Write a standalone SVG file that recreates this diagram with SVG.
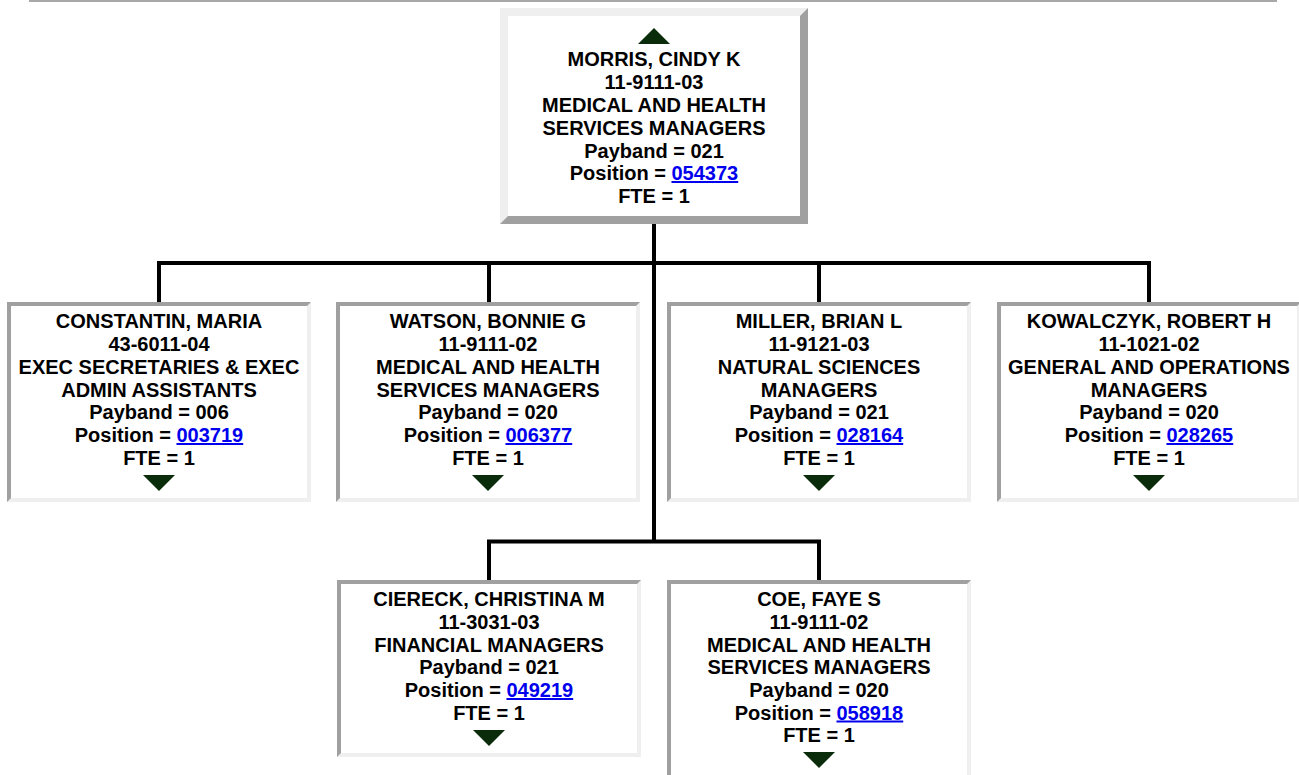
<svg xmlns="http://www.w3.org/2000/svg" width="1299" height="775" viewBox="0 0 1299 775">
<style>
.t{font-family:"Liberation Sans",Arial,sans-serif;font-weight:bold;font-size:20px;fill:#000;text-anchor:middle}
.lnk{fill:#0000ee;text-decoration:underline}
.lt{fill:#efefef}
.dk{fill:#a0a0a0}
.in{fill:#fff}
.tri{fill:#0a2c0a}
.c{stroke:#000;stroke-width:4;fill:none}
</style>
<rect width="1299" height="775" fill="#fff"/>
<line x1="29" y1="1" x2="1277" y2="1" stroke="#a8a8a8" stroke-width="2"/>
<g id="connectors">
<path class="c" d="M654 224V541.5M159 302V263H1149V302M489 263V302M819 263V302M489 580V541.5H819V580"/>
</g>
<g id="node-morris">
<rect class="dk" x="500" y="8" width="308" height="216"/>
<polygon class="lt" points="500,8 808,8 800,16 508,16 508,216 500,224"/>
<rect class="in" x="508" y="16" width="292" height="200"/>
<polygon class="tri" points="654,28 670,44 638,44"/>
<text class="t" x="654" y="66">MORRIS, CINDY K</text>
<text class="t" x="654" y="89">11-9111-03</text>
<text class="t" x="654" y="112">MEDICAL AND HEALTH</text>
<text class="t" x="654" y="135">SERVICES MANAGERS</text>
<text class="t" x="654" y="157.5">Payband = 021</text>
<text class="t" x="654" y="180">Position = <tspan class="lnk">054373</tspan></text>
<text class="t" x="654" y="203">FTE = 1</text>
</g>
<g id="node-constantin">
<rect class="lt" x="7" y="302" width="304" height="200"/>
<polygon class="dk" points="7,302 311,302 307,306 11,306 11,498 7,502"/>
<rect class="in" x="11" y="306" width="296" height="192"/>
<text class="t" x="159" y="328">CONSTANTIN, MARIA</text>
<text class="t" x="159" y="351">43-6011-04</text>
<text class="t" x="159" y="374">EXEC SECRETARIES &amp; EXEC</text>
<text class="t" x="159" y="396.5">ADMIN ASSISTANTS</text>
<text class="t" x="159" y="419">Payband = 006</text>
<text class="t" x="159" y="442">Position = <tspan class="lnk">003719</tspan></text>
<text class="t" x="159" y="464.5">FTE = 1</text>
<polygon class="tri" points="143,475 175,475 159,491"/>
</g>
<g id="node-watson">
<rect class="lt" x="336" y="302" width="304" height="200"/>
<polygon class="dk" points="336,302 640,302 636,306 340,306 340,498 336,502"/>
<rect class="in" x="340" y="306" width="296" height="192"/>
<text class="t" x="488" y="328">WATSON, BONNIE G</text>
<text class="t" x="488" y="351">11-9111-02</text>
<text class="t" x="488" y="374">MEDICAL AND HEALTH</text>
<text class="t" x="488" y="396.5">SERVICES MANAGERS</text>
<text class="t" x="488" y="419">Payband = 020</text>
<text class="t" x="488" y="442">Position = <tspan class="lnk">006377</tspan></text>
<text class="t" x="488" y="464.5">FTE = 1</text>
<polygon class="tri" points="472,475 504,475 488,491"/>
</g>
<g id="node-miller">
<rect class="lt" x="667" y="302" width="304" height="200"/>
<polygon class="dk" points="667,302 971,302 967,306 671,306 671,498 667,502"/>
<rect class="in" x="671" y="306" width="296" height="192"/>
<text class="t" x="819" y="328">MILLER, BRIAN L</text>
<text class="t" x="819" y="351">11-9121-03</text>
<text class="t" x="819" y="374">NATURAL SCIENCES</text>
<text class="t" x="819" y="396.5">MANAGERS</text>
<text class="t" x="819" y="419">Payband = 021</text>
<text class="t" x="819" y="442">Position = <tspan class="lnk">028164</tspan></text>
<text class="t" x="819" y="464.5">FTE = 1</text>
<polygon class="tri" points="803,475 835,475 819,491"/>
</g>
<g id="node-kowalczyk">
<rect class="lt" x="997" y="302" width="304" height="200"/>
<polygon class="dk" points="997,302 1301,302 1297,306 1001,306 1001,498 997,502"/>
<rect class="in" x="1001" y="306" width="296" height="192"/>
<text class="t" x="1149" y="328">KOWALCZYK, ROBERT H</text>
<text class="t" x="1149" y="351">11-1021-02</text>
<text class="t" x="1149" y="374">GENERAL AND OPERATIONS</text>
<text class="t" x="1149" y="396.5">MANAGERS</text>
<text class="t" x="1149" y="419">Payband = 020</text>
<text class="t" x="1149" y="442">Position = <tspan class="lnk">028265</tspan></text>
<text class="t" x="1149" y="464.5">FTE = 1</text>
<polygon class="tri" points="1133,475 1165,475 1149,491"/>
</g>
<g id="node-ciereck">
<rect class="lt" x="337" y="580" width="304" height="177"/>
<polygon class="dk" points="337,580 641,580 637,584 341,584 341,753 337,757"/>
<rect class="in" x="341" y="584" width="296" height="169"/>
<text class="t" x="489" y="606">CIERECK, CHRISTINA M</text>
<text class="t" x="489" y="629">11-3031-03</text>
<text class="t" x="489" y="651.5">FINANCIAL MANAGERS</text>
<text class="t" x="489" y="674">Payband = 021</text>
<text class="t" x="489" y="697">Position = <tspan class="lnk">049219</tspan></text>
<text class="t" x="489" y="719.5">FTE = 1</text>
<polygon class="tri" points="473,730 505,730 489,746"/>
</g>
<g id="node-coe">
<rect class="lt" x="667" y="580" width="304" height="220"/>
<polygon class="dk" points="667,580 971,580 967,584 671,584 671,796 667,800"/>
<rect class="in" x="671" y="584" width="296" height="212"/>
<text class="t" x="819" y="606">COE, FAYE S</text>
<text class="t" x="819" y="629">11-9111-02</text>
<text class="t" x="819" y="651.5">MEDICAL AND HEALTH</text>
<text class="t" x="819" y="674">SERVICES MANAGERS</text>
<text class="t" x="819" y="697">Payband = 020</text>
<text class="t" x="819" y="719.5">Position = <tspan class="lnk">058918</tspan></text>
<text class="t" x="819" y="742">FTE = 1</text>
<polygon class="tri" points="803,752 835,752 819,768"/>
</g>
</svg>
